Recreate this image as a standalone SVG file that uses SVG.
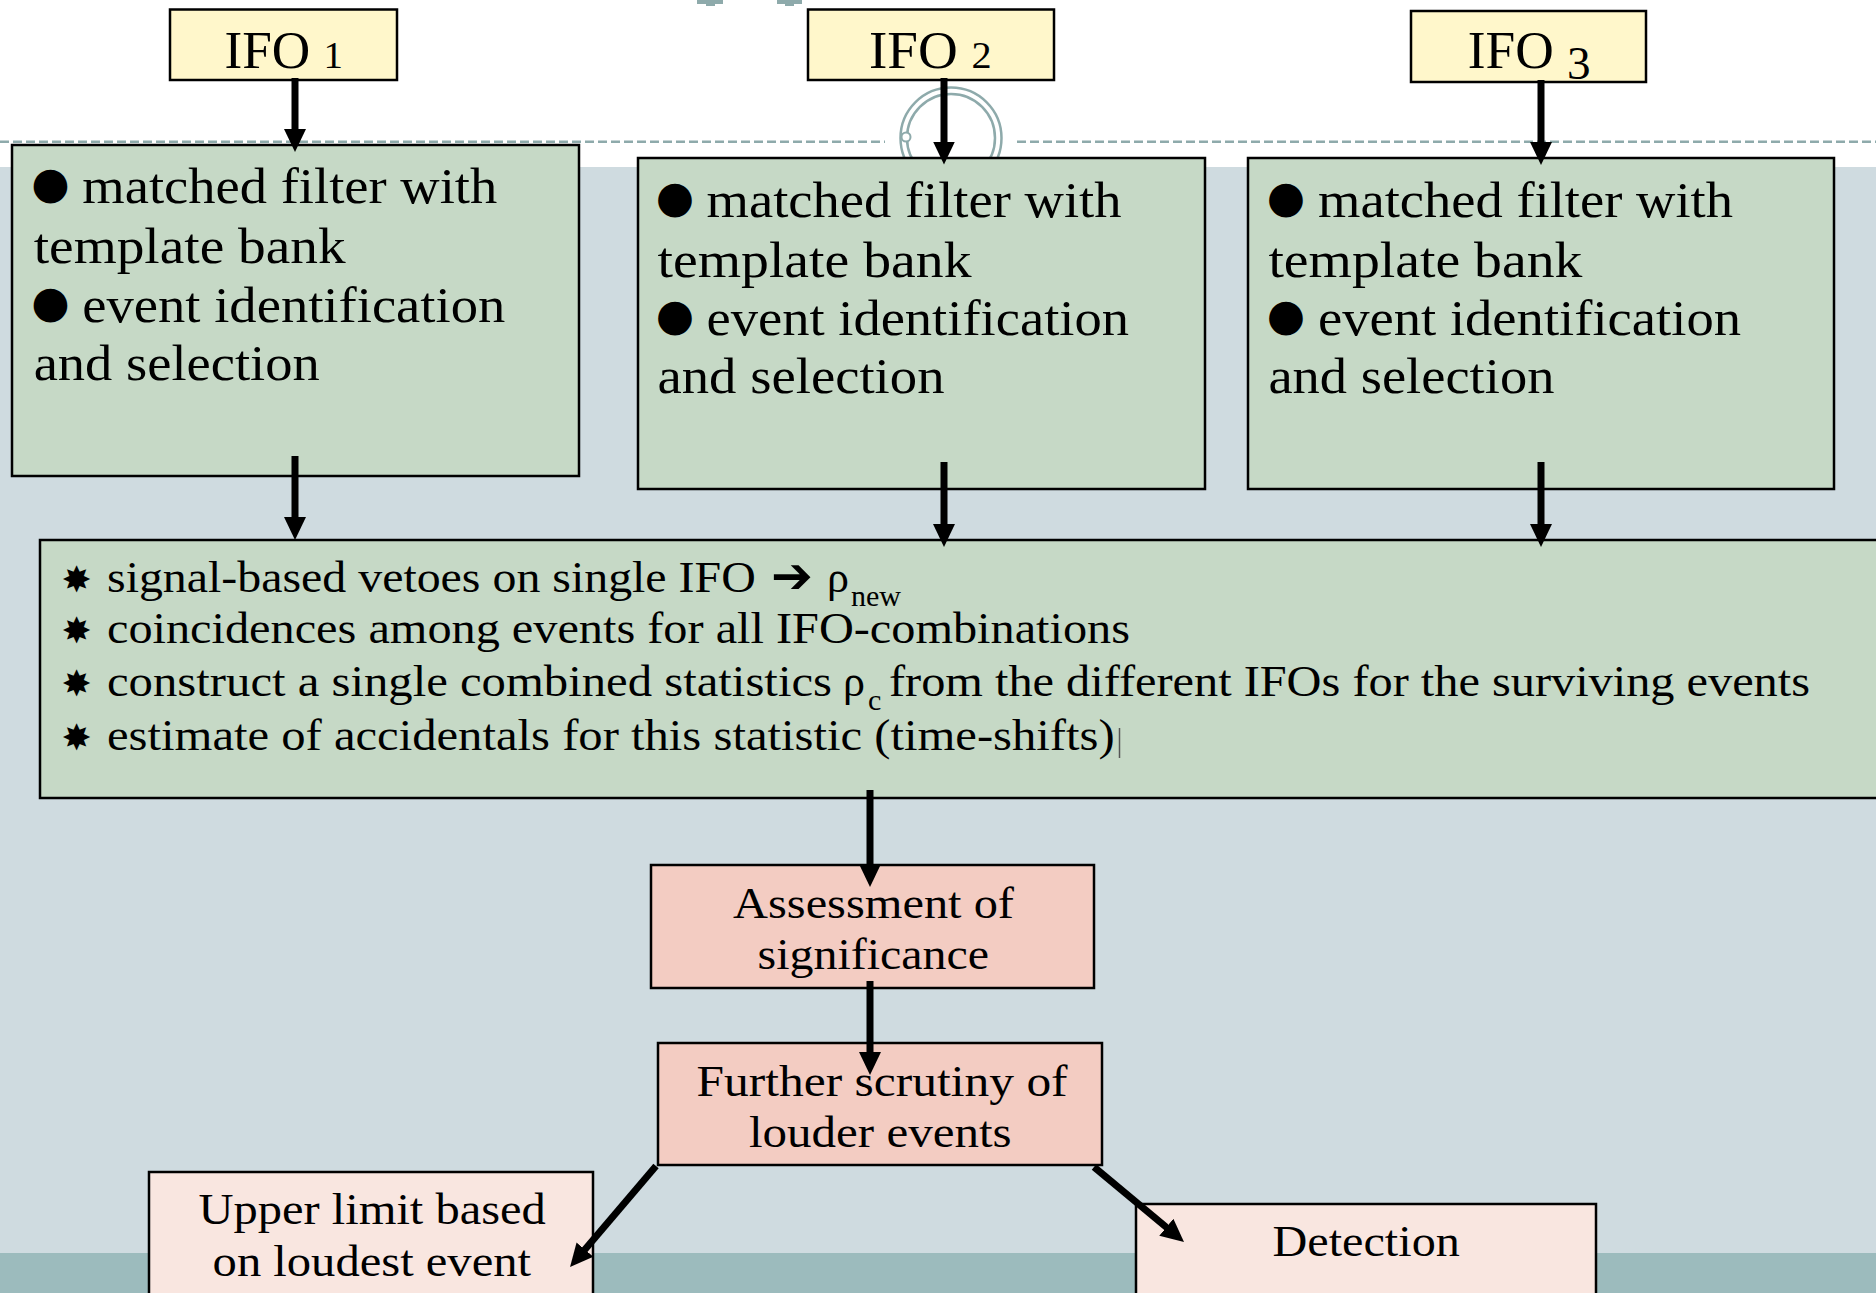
<svg xmlns="http://www.w3.org/2000/svg" width="1876" height="1293" viewBox="0 0 1876 1293">
<style>
.t{font-family:"Liberation Serif","Times New Roman",serif;fill:#000}
.g{font-family:"DejaVu Sans","Noto Sans",sans-serif;fill:#000}
.box{stroke:#000;stroke-width:2.5}
.ifo{fill:#fff7cb}
.grn{fill:#c6d9c6}
.pnk{fill:#f3ccc2}
.lpk{fill:#f9e6e0}
.con{stroke:#000;stroke-width:7;fill:none;marker-end:url(#ah)}
.deco{stroke:#8eaaab;fill:none}
</style>
<defs>
<marker id="ah" markerUnits="userSpaceOnUse" markerWidth="24" markerHeight="24" viewBox="0 0 24 24" refX="1" refY="12" orient="auto">
<path d="M0,1 L23,12 L0,23 Z" fill="#000"/>
</marker>
</defs>
<g id="background">
<rect x="0" y="0" width="1876" height="1293" fill="#ffffff"/>
<rect x="0" y="167" width="1876" height="1086" fill="#cfdbe0"/>
<rect x="0" y="1253" width="1876" height="40" fill="#9cbbbd"/>
<line class="deco" x1="0" y1="141.7" x2="885" y2="141.7" stroke-width="2.5" stroke-dasharray="9 4"/>
<line class="deco" x1="1017" y1="141.7" x2="1876" y2="141.7" stroke-width="2.5" stroke-dasharray="9 4"/>
<circle class="deco" cx="951" cy="138" r="50.5" stroke-width="2.5"/>
<circle class="deco" cx="951" cy="138" r="44" stroke-width="2.5"/>
<circle cx="906" cy="137" r="4.5" fill="#ffffff" stroke="#8eaaab" stroke-width="2"/>
<rect x="697" y="0" width="26" height="4" fill="#8eaaab"/>
<rect x="706" y="0" width="9" height="6" fill="#8eaaab"/>
<rect x="777" y="0" width="25" height="4" fill="#8eaaab"/>
<rect x="785" y="0" width="9" height="6" fill="#8eaaab"/>
</g>
<g id="ifo1">
<rect class="box ifo" x="170" y="9.5" width="227" height="70.5"/>
<text class="t" x="224.5" y="68.3" font-size="52" textLength="118.5" lengthAdjust="spacingAndGlyphs">IFO <tspan font-size="38">1</tspan></text>
</g>
<g id="ifo2">
<rect class="box ifo" x="808" y="9.5" width="246" height="70.5"/>
<text class="t" x="869" y="68.3" font-size="52" textLength="122.7" lengthAdjust="spacingAndGlyphs">IFO <tspan font-size="38">2</tspan></text>
</g>
<g id="ifo3">
<rect class="box ifo" x="1411" y="11" width="235" height="71"/>
<text class="t" x="1467.7" y="68.3" font-size="52" textLength="123" lengthAdjust="spacingAndGlyphs">IFO <tspan font-size="46" dy="11">3</tspan></text>
</g>
<g id="filter1">
<rect class="box grn" x="12" y="145" width="567" height="331"/>
<text class="g" x="50.5" y="197.7" font-size="44" text-anchor="middle">●</text>
<text class="t" x="82.3" y="202.7" font-size="51" textLength="415" lengthAdjust="spacingAndGlyphs">matched filter with</text>
<text class="t" x="33.7" y="263.3" font-size="51" textLength="312" lengthAdjust="spacingAndGlyphs">template bank</text>
<text class="g" x="50.5" y="316.7" font-size="44" text-anchor="middle">●</text>
<text class="t" x="82.3" y="321.7" font-size="51" textLength="423" lengthAdjust="spacingAndGlyphs">event identification</text>
<text class="t" x="33.7" y="380" font-size="51" textLength="286" lengthAdjust="spacingAndGlyphs">and selection</text>
</g>
<g id="filter2">
<rect class="box grn" x="638" y="158" width="567" height="331"/>
<text class="g" x="675" y="211.7" font-size="44" text-anchor="middle">●</text>
<text class="t" x="706.5" y="216.7" font-size="51" textLength="415" lengthAdjust="spacingAndGlyphs">matched filter with</text>
<text class="t" x="657.5" y="276.7" font-size="51" textLength="314" lengthAdjust="spacingAndGlyphs">template bank</text>
<text class="g" x="675" y="329.5" font-size="44" text-anchor="middle">●</text>
<text class="t" x="706.5" y="334.5" font-size="51" textLength="422.5" lengthAdjust="spacingAndGlyphs">event identification</text>
<text class="t" x="657.5" y="393.3" font-size="51" textLength="287" lengthAdjust="spacingAndGlyphs">and selection</text>
</g>
<g id="filter3">
<rect class="box grn" x="1248" y="158" width="586" height="331"/>
<text class="g" x="1286" y="211.7" font-size="44" text-anchor="middle">●</text>
<text class="t" x="1318" y="216.7" font-size="51" textLength="415" lengthAdjust="spacingAndGlyphs">matched filter with</text>
<text class="t" x="1268.4" y="276.7" font-size="51" textLength="314" lengthAdjust="spacingAndGlyphs">template bank</text>
<text class="g" x="1286" y="329.5" font-size="44" text-anchor="middle">●</text>
<text class="t" x="1318" y="334.5" font-size="51" textLength="423" lengthAdjust="spacingAndGlyphs">event identification</text>
<text class="t" x="1268.4" y="393.3" font-size="51" textLength="286" lengthAdjust="spacingAndGlyphs">and selection</text>
</g>
<g id="combine">
<rect class="box grn" x="40" y="540" width="1850" height="258" stroke-width="3"/>
<text class="g" x="76.5" y="591.7" font-size="36" text-anchor="middle">✸</text>
<text class="t" x="107" y="591.7" font-size="44" textLength="648.7" lengthAdjust="spacingAndGlyphs">signal-based vetoes on single IFO</text>
<text class="g" x="792" y="593" font-size="50" text-anchor="middle" font-weight="bold">➔</text>
<text class="t" font-size="44" y="591.7"><tspan x="827">ρ</tspan><tspan x="851" y="606" font-size="30">new</tspan></text>
<text class="g" x="76.5" y="643.3" font-size="36" text-anchor="middle">✸</text>
<text class="t" x="107" y="643.3" font-size="44" textLength="1023" lengthAdjust="spacingAndGlyphs">coincidences among events for all IFO-combinations</text>
<text class="g" x="76.5" y="695.7" font-size="36" text-anchor="middle">✸</text>
<text class="t" x="107" y="695.7" font-size="44" textLength="725" lengthAdjust="spacingAndGlyphs">construct a single combined statistics</text>
<text class="t" font-size="44" y="695.7"><tspan x="843">ρ</tspan><tspan x="868" y="710" font-size="30">c</tspan></text>
<text class="t" x="889" y="695.7" font-size="44" textLength="921" lengthAdjust="spacingAndGlyphs">from the different IFOs for the surviving events</text>
<text class="g" x="76.5" y="750" font-size="36" text-anchor="middle">✸</text>
<text class="t" x="107" y="750" font-size="44" textLength="1007.7" lengthAdjust="spacingAndGlyphs">estimate of accidentals for this statistic (time-shifts)</text>
<line x1="1119.5" y1="728" x2="1119.5" y2="758" stroke="#555" stroke-width="1.5"/>
</g>
<g id="assessment">
<rect class="box pnk" x="651" y="865" width="443" height="123"/>
<text class="t" x="733" y="917.7" font-size="44" textLength="281" lengthAdjust="spacingAndGlyphs">Assessment of</text>
<text class="t" x="757.6" y="969" font-size="44" textLength="231.4" lengthAdjust="spacingAndGlyphs">significance</text>
</g>
<g id="scrutiny">
<rect class="box pnk" x="658" y="1043" width="444" height="122"/>
<text class="t" x="696.6" y="1095.7" font-size="44" textLength="371" lengthAdjust="spacingAndGlyphs">Further scrutiny of</text>
<text class="t" x="749" y="1146.7" font-size="44" textLength="262.6" lengthAdjust="spacingAndGlyphs">louder events</text>
</g>
<g id="upperlimit">
<rect class="box lpk" x="149" y="1172" width="444" height="130"/>
<text class="t" x="198.5" y="1224" font-size="44" textLength="347.3" lengthAdjust="spacingAndGlyphs">Upper limit based</text>
<text class="t" x="212.6" y="1275.7" font-size="44" textLength="318.4" lengthAdjust="spacingAndGlyphs">on loudest event</text>
</g>
<g id="detection">
<rect class="box lpk" x="1136" y="1204" width="460" height="100"/>
<text class="t" x="1272.6" y="1256" font-size="44" textLength="187.2" lengthAdjust="spacingAndGlyphs">Detection</text>
</g>
<g id="connectors">
<line class="con" x1="295" y1="78" x2="295" y2="130"/>
<line class="con" x1="944" y1="78" x2="944" y2="142.5"/>
<line class="con" x1="1541" y1="80" x2="1541" y2="143"/>
<line class="con" x1="295" y1="456" x2="295" y2="518"/>
<line class="con" x1="944" y1="462" x2="944" y2="525"/>
<line class="con" x1="1541" y1="462" x2="1541" y2="525"/>
<line class="con" x1="870" y1="790" x2="870" y2="865"/>
<line class="con" x1="870" y1="981" x2="870" y2="1053"/>
<line class="con" x1="656" y1="1166" x2="584.3" y2="1250.3"/>
<line class="con" x1="1094" y1="1167" x2="1167.1" y2="1227.9"/>
</g>
</svg>
